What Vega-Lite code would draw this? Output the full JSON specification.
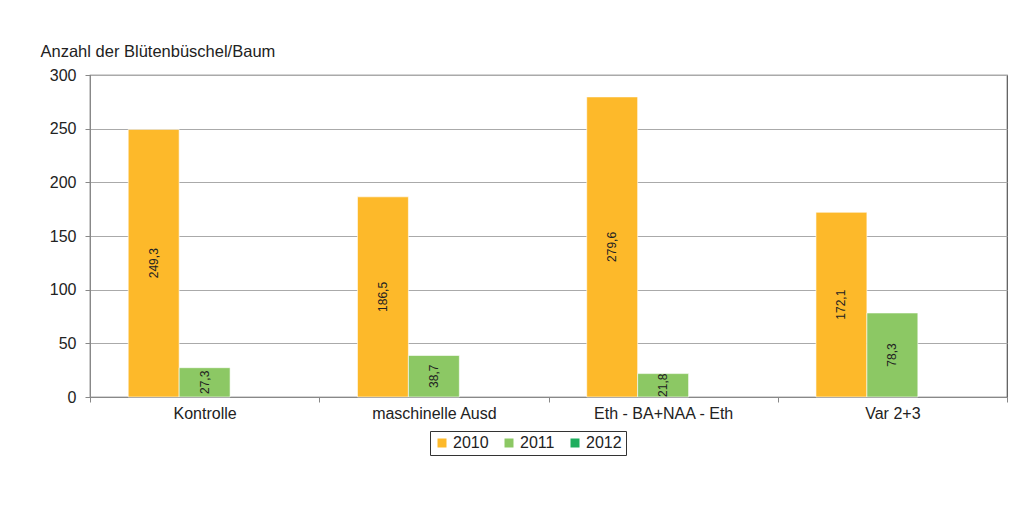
{
  "$schema": "https://vega.github.io/schema/vega-lite/v6.json",
  "autosize": "none",
  "width": 917,
  "height": 322,
  "padding": {"left": 90, "top": 75, "right": 7, "bottom": 113},
  "background": "#ffffff",
  "config": {
    "font": "Liberation Sans",
    "locale": {"number": {"decimal": ",", "thousands": ".", "grouping": [3], "currency": ["", " €"]}},
    "view": {"stroke": "#555555", "strokeWidth": 1.2}
  },
  "data": {
    "values": [
      {"variante": "Kontrolle", "jahr": "2010", "wert": 249.3},
      {"variante": "Kontrolle", "jahr": "2011", "wert": 27.3},
      {"variante": "maschinelle Ausd", "jahr": "2010", "wert": 186.5},
      {"variante": "maschinelle Ausd", "jahr": "2011", "wert": 38.7},
      {"variante": "Eth - BA+NAA - Eth", "jahr": "2010", "wert": 279.6},
      {"variante": "Eth - BA+NAA - Eth", "jahr": "2011", "wert": 21.8},
      {"variante": "Var 2+3", "jahr": "2010", "wert": 172.1},
      {"variante": "Var 2+3", "jahr": "2011", "wert": 78.3}
    ]
  },
  "encoding": {
    "x": {
      "field": "variante",
      "type": "nominal",
      "sort": null,
      "scale": {"paddingInner": 0, "paddingOuter": 0},
      "axis": {
        "title": null,
        "labelAngle": 0,
        "labelFontSize": 16,
        "labelColor": "#222222",
        "tickBand": "extent",
        "tickSize": 5,
        "tickColor": "#888888",
        "domainColor": "#888888",
        "labelPadding": 3,
        "grid": false
      }
    },
    "xOffset": {
      "field": "jahr",
      "type": "nominal",
      "scale": {"domain": ["2010", "2011", "2012"], "paddingInner": 0, "paddingOuter": 0.75}
    }
  },
  "layer": [
    {
      "mark": {"type": "bar", "stroke": "#ffffff", "strokeWidth": 0.6},
      "encoding": {
        "y": {
          "field": "wert",
          "type": "quantitative",
          "scale": {"domain": [0, 300], "nice": false},
          "axis": {
            "values": [0, 50, 100, 150, 200, 250, 300],
            "title": "Anzahl der Blütenbüschel/Baum",
            "titleAngle": 0,
            "titleAlign": "left",
            "titleBaseline": "alphabetic",
            "titleX": -50,
            "titleY": -19,
            "titleFontSize": 16.5,
            "titleFontWeight": "normal",
            "titleColor": "#222222",
            "labelFontSize": 16,
            "labelColor": "#222222",
            "tickSize": 5,
            "tickColor": "#888888",
            "domainColor": "#888888",
            "labelPadding": 9,
            "gridColor": "#aaaaaa",
            "gridWidth": 1
          }
        },
        "color": {
          "field": "jahr",
          "type": "nominal",
          "scale": {"domain": ["2010", "2011", "2012"], "range": ["#FDB92A", "#8CC864", "#1FAE5E"]},
          "legend": {
            "title": null,
            "orient": "none",
            "direction": "horizontal",
            "legendX": 340,
            "legendY": 356,
            "strokeColor": "#333333",
            "padding": 4,
            "symbolType": "square",
            "symbolSize": 81,
            "symbolStrokeWidth": 0,
            "labelFontSize": 16,
            "labelColor": "#222222",
            "labelOffset": 3,
            "columnPadding": 12
          }
        }
      }
    },
    {
      "transform": [{"calculate": "datum.wert / 2", "as": "mitte"}],
      "mark": {"type": "text", "angle": 270, "fontSize": 12, "color": "#222222", "align": "center", "baseline": "middle"},
      "encoding": {
        "y": {"field": "mitte", "type": "quantitative"},
        "text": {"field": "wert", "type": "quantitative", "format": ".1f"}
      }
    }
  ]
}
